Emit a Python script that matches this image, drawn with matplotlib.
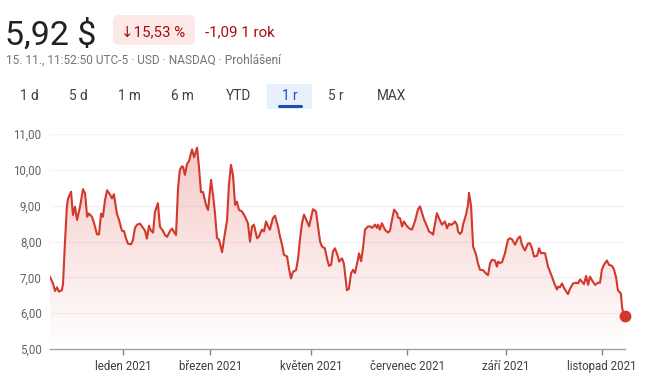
import numpy as np
import matplotlib
matplotlib.use("Agg")
import matplotlib.pyplot as plt
from matplotlib.colors import LinearSegmentedColormap
from matplotlib.patches import FancyBboxPatch, Rectangle
from matplotlib.lines import Line2D

plt.rcParams['font.family'] = ['Roboto', 'DejaVu Sans']

# ---- data (trading-session index since 16 Nov 2020, price in USD) ----
sessions = [0.0, 1.3, 2.2, 3.1, 3.9, 5.2, 5.7, 6.5, 7.4, 7.9, 9.2, 10.0, 10.9, 11.8, 13.1, 14.4, 15.3, 16.2,
            17.0, 18.3, 19.2, 20.5, 21.4, 22.3, 23.1, 24.0, 24.9, 26.2, 27.1, 27.9, 29.2, 30.1, 31.4, 32.3,
            33.2, 34.0, 35.4, 36.2, 37.1, 38.0, 39.3, 40.6, 41.5, 42.3, 43.2, 44.1, 45.0, 45.8, 47.1, 48.0,
            49.3, 50.2, 51.1, 52.4, 53.3, 54.1, 55.0, 55.9, 56.7, 57.6, 58.1, 58.9, 59.8, 60.7, 62.0, 62.9,
            64.2, 65.0, 65.9, 66.8, 68.1, 69.0, 70.3, 71.2, 72.0, 72.9, 73.8, 75.1, 76.0, 77.3, 78.1, 79.0,
            79.9, 80.8, 81.6, 82.5, 83.8, 85.1, 86.4, 87.3, 88.2, 89.0, 90.4, 91.2, 92.5, 93.4, 94.3, 95.2,
            96.0, 97.3, 98.2, 99.5, 100.4, 101.3, 102.1, 103.5, 104.3, 105.2, 106.1, 107.4, 108.3, 109.1,
            110.0, 110.9, 112.2, 113.1, 113.9, 114.8, 116.1, 117.0, 117.9, 118.7, 120.0, 120.9, 121.8, 122.7,
            123.5, 124.4, 125.7, 126.2, 127.5, 128.3, 129.6, 130.5, 131.4, 132.3, 133.1, 134.4, 134.9, 135.8,
            136.6, 137.5, 138.8, 139.7, 140.6, 141.9, 142.7, 143.2, 144.0, 144.9, 146.2, 147.5, 148.4, 149.3,
            150.2, 151.5, 151.9, 152.8, 153.7, 154.5, 155.8, 156.7, 158.0, 159.3, 160.6, 161.5, 162.4, 163.3,
            164.6, 165.4, 166.7, 167.2, 168.1, 168.9, 169.8, 171.1, 172.4, 173.3, 174.2, 175.0, 175.9, 176.8,
            177.7, 178.1, 179.0, 179.8, 180.3, 181.6, 182.5, 182.9, 183.8, 184.7, 186.0, 186.8, 187.7, 189.0,
            190.3, 191.2, 192.1, 192.9, 194.2, 195.1, 195.6, 196.4, 197.3, 198.6, 199.9, 200.8, 201.7, 203.0,
            204.3, 205.2, 206.0, 207.3, 208.7, 209.5, 210.4, 211.3, 212.6, 213.5, 214.3, 215.2, 216.1, 217.4,
            218.3, 219.1, 220.4, 221.3, 221.8, 222.6, 223.5, 224.4, 225.2, 226.1, 227.0, 228.3, 229.6, 230.5,
            231.4, 232.2, 233.1, 234.0, 234.9, 235.7, 236.6, 237.9, 239.2, 240.1, 240.9, 241.8, 243.1, 244.0,
            245.3, 246.2, 247.1, 247.9, 249.2, 249.7, 250.1, 251.0]
prices = [7.01, 6.83, 6.62, 6.72, 6.60, 6.64, 6.83, 7.94, 9.00, 9.20, 9.39, 8.74, 8.97, 8.60, 8.97, 9.46, 9.34, 8.69,
          8.78, 8.69, 8.52, 8.20, 8.20, 8.78, 8.69, 9.15, 9.43, 9.31, 9.20, 9.32, 8.78, 8.61, 8.30, 8.29,
          8.08, 7.94, 7.92, 8.04, 8.38, 8.47, 8.50, 8.38, 8.30, 8.08, 8.44, 8.30, 8.25, 8.82, 9.07, 8.41,
          8.30, 8.18, 8.13, 8.29, 8.36, 8.27, 8.18, 9.50, 10.00, 10.10, 10.08, 9.86, 10.16, 10.25, 10.57, 10.35,
          10.62, 10.10, 9.38, 9.38, 9.02, 8.88, 9.72, 9.28, 8.80, 8.10, 8.05, 7.70, 8.08, 8.60, 9.58, 10.14,
          9.84, 9.02, 9.11, 8.88, 8.84, 8.70, 8.51, 8.00, 8.42, 8.47, 8.09, 8.14, 8.33, 8.28, 8.56, 8.42,
          8.33, 8.65, 8.72, 8.42, 8.14, 7.91, 7.63, 7.58, 7.25, 6.97, 7.16, 7.20, 7.53, 8.05,
          8.51, 8.75, 8.56, 8.42, 8.65, 8.90, 8.84, 8.42, 8.00, 7.86, 7.81, 7.53, 7.32, 7.35,
          7.72, 7.81, 7.58, 7.44, 7.53, 7.38, 6.64, 6.68, 7.11, 7.21, 7.12, 7.49, 7.67, 7.45,
          7.80, 8.33, 8.42, 8.42, 8.38, 8.47, 8.38, 8.47, 8.33, 8.51, 8.33, 8.25, 8.30, 8.61,
          8.89, 8.79, 8.67, 8.65, 8.42, 8.56, 8.43, 8.37, 8.33, 8.56, 8.89, 8.98, 8.79, 8.61,
          8.42, 8.28, 8.23, 8.19, 8.51, 8.79, 8.65, 8.47, 8.56, 8.37, 8.50, 8.46, 8.50, 8.56,
          8.46, 8.28, 8.21, 8.28, 8.47, 8.75, 9.03, 9.36, 9.00, 7.86, 7.63, 7.39, 7.21, 7.20,
          7.11, 7.06, 7.39, 7.49, 7.47, 7.30, 7.44, 7.40, 7.42, 7.67, 8.05, 8.09, 8.06, 7.91,
          8.09, 8.14, 7.91, 7.75, 7.95, 7.95, 7.81, 7.58, 7.60, 7.81, 7.67, 7.68, 7.67, 7.30,
          7.15, 7.02, 6.79, 6.66, 6.74, 6.72, 6.83, 6.70, 6.62, 6.53, 6.68, 6.83, 6.85, 6.83,
          6.94, 6.88, 6.81, 7.04, 6.79, 7.02, 6.92, 6.79, 6.85, 6.85, 7.21, 7.35, 7.47, 7.35,
          7.32, 7.22, 7.00, 6.64, 6.55, 6.18, 6.03, 5.92]

month_sessions = [32, 70, 114, 156, 199, 241]
month_labels = ["leden 2021", "březen 2021", "květen 2021", "červenec 2021", "září 2021", "listopad 2021"]
y_ticks = [5, 6, 7, 8, 9, 10, 11]
range_buttons = ["1 d", "5 d", "1 m", "6 m", "YTD", "1 r", "5 r", "MAX"]
price_text = "5,92 $"
change_pct = "↓15,53 %"
change_abs = "-1,09 1 rok"
info_line = "15. 11., 11:52:50 UTC-5 · USD · NASDAQ · Prohlášení"

RED = "#d2382b"
W, H = 650, 390
fig = plt.figure(figsize=(6.5, 3.9), dpi=100)
fig.patch.set_facecolor("white")


def fx(px):
    return px / W


def fy(py):
    return 1 - py / H


# ---- header ----
fig.text(fx(5), fy(45), price_text, fontsize=24.5, color="#202124", va="baseline", ha="left")
fig.patches.append(FancyBboxPatch((fx(113), fy(45)), fx(82), 30 / H,
                                  boxstyle="round,pad=0,rounding_size=0.012",
                                  transform=fig.transFigure, facecolor="#fce8e6", edgecolor="none"))
fig.text(fx(121), fy(36), change_pct, fontsize=10.8, color="#a50e0e", va="baseline", ha="left")
fig.text(fx(205), fy(36), change_abs, fontsize=10.8, color="#a50e0e", va="baseline", ha="left")
fig.text(fx(6), fy(64), info_line, fontsize=8.6, color="#70757a", va="baseline", ha="left")

btn_x = [29, 78, 129, 182, 238, 290, 336, 391]
fig.patches.append(Rectangle((fx(267), fy(109)), fx(45), 25 / H, transform=fig.transFigure,
                             facecolor="#e8f0fe", edgecolor="none"))
fig.lines.append(Line2D([fx(279), fx(301)], [fy(106.5), fy(106.5)], transform=fig.transFigure,
                        color="#1a4fb5", lw=2.2, solid_capstyle="round"))
for bx, lab in zip(btn_x, range_buttons):
    col = "#1a4fb5" if lab == "1 r" else "#3c4043"
    fig.text(fx(bx), fy(100), lab, fontsize=9.8, color=col, va="baseline", ha="center")

# ---- chart ----
ax = fig.add_axes([fx(50), fy(349), fx(575), (349 - 134) / H])
ax.set_xlim(0, 251)
ax.set_ylim(5, 11)

x = np.array(sessions)
v = np.array(prices)
poly, = ax.fill(np.concatenate([x, [x[-1], x[0]]]), np.concatenate([v, [5, 5]]),
                facecolor="none", edgecolor="none")
cmap = LinearSegmentedColormap.from_list("g", [(0.85, 0.19, 0.15, 0.0), (0.85, 0.19, 0.15, 0.26)])
grad = np.linspace(0, 1, 256).reshape(-1, 1)
im = ax.imshow(grad, extent=[0, 251, 5, 10.7], origin="lower", aspect="auto", cmap=cmap, zorder=1)
im.set_clip_path(poly)

ax.plot(x, v, color=RED, lw=1.5, zorder=3, solid_joinstyle="round")
ax.plot([x[-1]], [v[-1]], "o", color=RED, markersize=7.5, zorder=4, clip_on=False)

for yt in y_ticks[1:]:
    ax.axhline(yt, color="#f1f3f4", lw=1, zorder=0)

ax.set_yticks(y_ticks)
ax.set_yticklabels([f"{t:.2f}".replace(".", ",") for t in y_ticks])
ax.set_xticks(month_sessions)
ax.set_xticklabels(month_labels)
ax.tick_params(axis="y", length=0, pad=6, labelsize=8.3, labelcolor="#5f6368")
ax.tick_params(axis="x", length=4, width=1, color="#80868b", pad=4, labelsize=8.3, labelcolor="#3c4043")
for s in ["top", "right", "left"]:
    ax.spines[s].set_visible(False)
ax.spines["bottom"].set_color("#9aa0a6")
ax.spines["bottom"].set_linewidth(1)
ax.set_facecolor("none")

fig.savefig("out.png", dpi=100)
